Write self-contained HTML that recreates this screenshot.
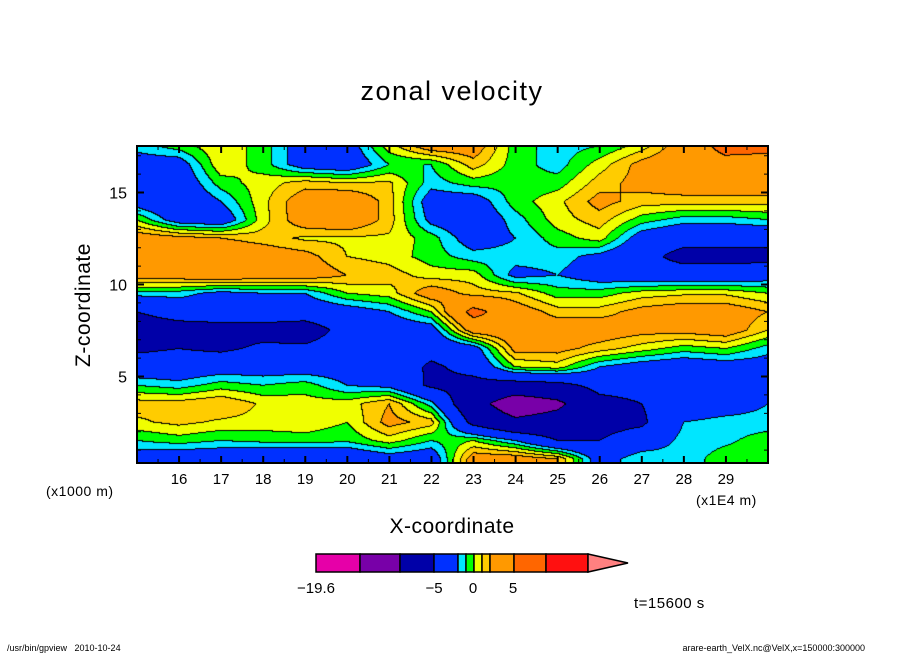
<!DOCTYPE html>
<html><head><meta charset="utf-8"><style>
body{margin:0;background:#fff;}
#wrap{position:relative;width:904px;height:654px;overflow:hidden;background:#fff;font-family:"Liberation Sans",sans-serif;color:#000;}
.t{position:absolute;white-space:nowrap;}
</style></head><body>
<div id="wrap">
<div class="t" style="left:0;width:904px;text-align:center;top:76px;font-size:27px;letter-spacing:1.5px;">zonal velocity</div>
<div class="t" style="left:84px;top:305px;font-size:21px;letter-spacing:0.5px;transform:translate(-50%,-50%) rotate(-90deg);">Z-coordinate</div>
<div class="t" style="left:0;width:904px;text-align:center;top:515px;font-size:21px;letter-spacing:0.5px;">X-coordinate</div>
<div class="t" style="left:46px;top:483px;font-size:14px;letter-spacing:0.5px;">(x1000 m)</div>
<div class="t" style="left:696px;top:492px;font-size:14px;letter-spacing:0.5px;">(x1E4 m)</div>
<div class="t" style="left:634px;top:595px;font-size:15px;letter-spacing:0.5px;">t=15600 s</div>
<div class="t" style="left:7px;top:643px;font-size:9px;">/usr/bin/gpview &nbsp; 2010-10-24</div>
<div class="t" style="right:39px;top:643px;font-size:9px;">arare-earth_VelX.nc@VelX,x=150000:300000</div>
<canvas id="cv" width="631" height="317" style="position:absolute;left:137px;top:146px;"></canvas>
<svg id="sv" width="904" height="654" style="position:absolute;left:0;top:0;"></svg>
</div>
<script>
const xs=[15,16,17,18,19,20,21,22,23,24,25,26,27,28,29,30];
const zs=[17.5,16.5,15.5,14.5,13.5,12.5,11.5,10.5,9.5,8.5,7.5,6.5,5.5,4.5,3.5,2.5,1.5,0.5];
const vel=[
[-1.5,-0.5,0.8,-0.5,-3,-3,0.5,3,3,-0.5,-1.5,-1,0.5,3,6,6],
[-3,-3,0.8,-0.5,-3,-3.5,-1,-1,1.5,-0.5,-1.5,0.5,2.5,3.5,4,3.5],
[-3.5,-3.5,-0.5,0.5,1.5,1,1.2,-1.5,-0.5,-0.7,-0.5,1.5,2.5,3,3,3],
[-3,-4,-2,0.7,3,3.5,1.5,-3,-3,-0.5,0.7,2.5,1.5,1.5,1.5,1.5],
[0,-3,-3.5,0.6,3,3.5,1.5,-2.5,-3.5,-1.5,0.5,1.5,-0.5,-1.5,-1.5,-1],
[3,2.5,2,1.5,0.8,0.8,0.8,-0.5,-3,-2,-0.5,0.5,-3,-4,-4,-4],
[3.5,3.5,3.5,3,2.5,1,0.6,-0.5,-1.5,-1.5,-1.5,-2.5,-4,-6,-6,-6],
[3,3,3.5,3,3,2,1.5,0.5,0.5,-2.5,-2,-3,-3.5,-3.5,-3.5,-3],
[-1.5,-1.5,-2.5,-2,-2,0,0.5,3,1.5,1.2,-0.5,-0.5,0.5,0.8,0.8,0],
[-5,-3.5,-3.5,-3.5,-3.5,-3,-2,0,6,3,1.5,1.5,2.5,3,3,2],
[-7,-6.5,-6,-6,-6.5,-4,-3.5,-3,3,3.5,3,3,2.5,2.5,3,1],
[-5.5,-5,-5.5,-4.5,-4.5,-3.5,-3.5,-4,-3,2.5,2.5,1.5,0.5,-0.5,0,-1.5],
[-3.5,-3.5,-3,-3,-3,-3,-3,-5.5,-4,0,0.5,-2,-3,-3.5,-3,-3],
[-1,-1.5,-0.5,-1,-0.5,-2,-2.5,-5.5,-6,-6.5,-6,-4,-4,-4,-3.5,-3],
[1.5,1.5,2,0.8,0.5,0.5,2,-1.5,-8,-13,-11,-6,-5,-3.5,-3,-2],
[0.8,1.3,0.8,0.6,0.7,0,2.5,1.5,-6,-9,-8,-6,-5.5,-2,-1.5,-1.5],
[-1,-0.5,-1,-0.7,-0.5,-0.8,0.5,-1,0,-2,-5,-5,-3.5,-1.5,-1.2,-0.5],
[-3,-3.5,-3.5,-4,-4.5,-4,-3,-3.5,3,3,2,-3,-1,-1.5,-0.5,-0.5]];
const levels=[-15,-10,-5,-2,-1,0,1,2,5,10,15];
const colors=["#e600a8","#7800a8","#0000a8","#0030ff","#00e6ff","#00ff00","#f0ff00","#ffcc00","#ff9900","#ff6600","#ff1010","#ff8080"];
const xTicks=[16,17,18,19,20,21,22,23,24,25,26,27,28,29];
const zTicks=[5,10,15];
const cbLabels=["-19.6","-5","0","5"];

const X0=137,X1=768,Y0=146,Y1=463;
const xpx=x=>X0+(x-15)*(X1-X0)/15;
const zpx=z=>463-(z-0.3)*18.4;
function lev(v){let k=0;while(k<levels.length&&v>=levels[k])k++;return k;}
function interp(arr,v){
  const n=arr.length;
  if(arr[n-1]>arr[0]){ if(v<=arr[0])return 0; if(v>=arr[n-1])return n-1;
    for(let i=0;i<n-1;i++) if(v<=arr[i+1]) return i+(v-arr[i])/(arr[i+1]-arr[i]);}
  else { if(v<=arr[n-1])return n-1; if(v>=arr[0])return 0;
    for(let i=0;i<n-1;i++) if(v>=arr[i+1]) return i+(v-arr[i])/(arr[i+1]-arr[i]);}
  return 0;
}
const gx=xs.map(xpx), gz=zs.map(zpx);
const cv=document.getElementById('cv'),ctx=cv.getContext('2d');
const W=cv.width,H=cv.height;
const L=new Int8Array(W*H);
function field(px,py){
  const fi=interp(gx,px+X0+0.5), fj=interp(gz,py+Y0+0.5);
  const i=Math.min(Math.floor(fi),xs.length-2), j=Math.min(Math.floor(fj),zs.length-2);
  const A=fi-i,B=fj-j;
  return vel[j][i]*(1-A)*(1-B)+vel[j][i+1]*A*(1-B)+vel[j+1][i]*(1-A)*B+vel[j+1][i+1]*A*B;
}
for(let y=0;y<H;y++)for(let x=0;x<W;x++)L[y*W+x]=lev(field(x,y));
const img=ctx.createImageData(W,H);
const rgb=colors.map(c=>[parseInt(c.substr(1,2),16),parseInt(c.substr(3,2),16),parseInt(c.substr(5,2),16)]);
for(let y=0;y<H;y++)for(let x=0;x<W;x++){
  const k=y*W+x;let c=rgb[L[k]];
  if((x<W-1&&L[k]!==L[k+1])||(y<H-1&&L[k]!==L[k+W]))c=[0,0,0];
  img.data[k*4]=c[0];img.data[k*4+1]=c[1];img.data[k*4+2]=c[2];img.data[k*4+3]=255;
}
ctx.putImageData(img,0,0);

const NS="http://www.w3.org/2000/svg",sv=document.getElementById('sv');
function el(t,a,txt){const e=document.createElementNS(NS,t);for(const k in a)e.setAttribute(k,a[k]);if(txt!==undefined)e.textContent=txt;sv.appendChild(e);return e;}
let e;
e=el('rect',{x:X0,y:Y0,width:X1-X0,height:Y1-Y0,fill:'none',stroke:'#000','stroke-width':2});


for(let x=15.5;x<30;x+=0.5){const p=xpx(x),big=Number.isInteger(x)?7:4;
  e=el('path',{d:`M${p},${Y1}v${-big}M${p},${Y0}v${big}`,stroke:'#000','stroke-width':Number.isInteger(x)?2:1});
  
  }
for(let z=1;z<=17;z++){const p=zpx(z),big=z%5===0?7:4;
  e=el('path',{d:`M${X0},${p}h${big}M${X1},${p}h${-big}`,stroke:'#000','stroke-width':z%5===0?2:1});
  
  }
xTicks.forEach(v=>{e=el('text',{x:xpx(v),y:484,'text-anchor':'middle','font-size':15,'font-family':'Liberation Sans, sans-serif'},String(v));
  
  });
zTicks.forEach(v=>{e=el('text',{x:127,y:zpx(v)+6,'text-anchor':'end','font-size':16,'font-family':'Liberation Sans, sans-serif'},String(v));
  
  });
const cbEdges=[316,360,400,434,458,466,474,482,490,514,546,588];
for(let i=0;i<11;i++){e=el('rect',{x:cbEdges[i],y:554,width:cbEdges[i+1]-cbEdges[i],height:18,fill:colors[i],stroke:'#000','stroke-width':1.5});
  
  }
e=el('path',{d:'M588,554L628,563L588,572Z',fill:colors[11],stroke:'#000','stroke-width':1.5});


const cbPos=[316,434,473,513];
cbLabels.forEach((t,i)=>{e=el('text',{x:cbPos[i],y:593,'text-anchor':'middle','font-size':15,'font-family':'Liberation Sans, sans-serif'},t.replace('-','\u2212'));
  
  });
</script>
</body></html>
